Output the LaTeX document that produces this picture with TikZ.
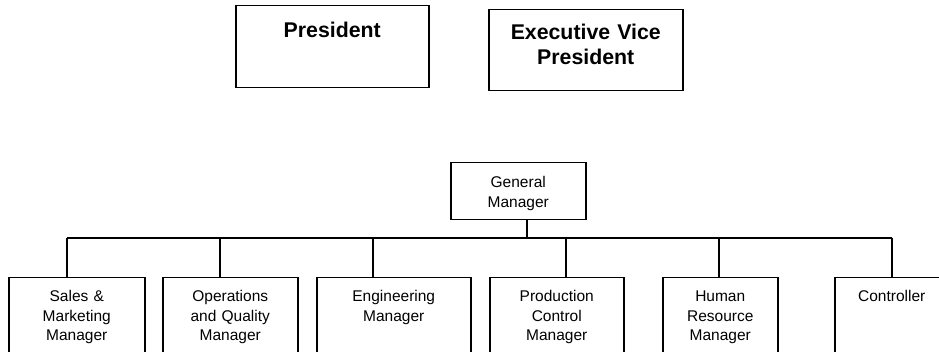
\documentclass[tikz,border=0pt]{standalone}
\usepackage{fontspec}
\setmainfont{Liberation Sans}
\usetikzlibrary{positioning}
\tikzset{
  box/.style={draw, inner sep=0pt, align=center, anchor=north west},
  topbox/.style={box, font=\bfseries\fontsize{21.3}{25}\selectfont},
  mgrbox/.style={box, font=\fontsize{15.5}{19.5}\selectfont,
    text height=24pt, text depth=100pt},
}

\begin{document}
\begin{tikzpicture}[x=1pt, y=-1pt, line width=1.5pt]
  \clip (0,0) rectangle (939,352);
  % top level
  \node [topbox, text width=193pt, text height=32pt, text depth=50pt] (pres) at (235,5) {President};
  \node [topbox, text width=194pt, text height=30pt, text depth=51pt] (evp) at (488,9) {Executive Vice\\President};
  % general manager
  \node [mgrbox, text width=135pt, text height=25pt, text depth=32pt] (gm) at (450,162) {General\\Manager};
  % managers
  \node [mgrbox, text width=136pt] (sales) at (8,277) {Sales \&\\Marketing\\Manager};
  \node [mgrbox, text width=135pt] (ops) at (162,277) {Operations\\and Quality\\Manager};
  \node [mgrbox, text width=154pt] (eng) at (316,277) {Engineering\\Manager};
  \node [mgrbox, text width=134pt] (prod) at (489,277) {Production\\Control\\Manager};
  \node [mgrbox, text width=115pt] (hr) at (662,277) {Human\\Resource\\Manager};
  \node [mgrbox, text width=114pt] (ctrl) at (834,277) {Controller};
  % bus
  \coordinate (gmdrop) at (527,238);
  \draw (gm.south -| gmdrop) -- (gmdrop);
  \foreach \n/\x in {sales/67, ops/220, eng/373, prod/566, hr/719, ctrl/892}
    \coordinate (drop\n) at (\x,238);
  \draw (dropsales) -- (dropctrl);
  \foreach \n in {sales, ops, eng, prod, hr, ctrl}
    \draw (drop\n) -- (drop\n |- \n.north);
\end{tikzpicture}
\end{document}
